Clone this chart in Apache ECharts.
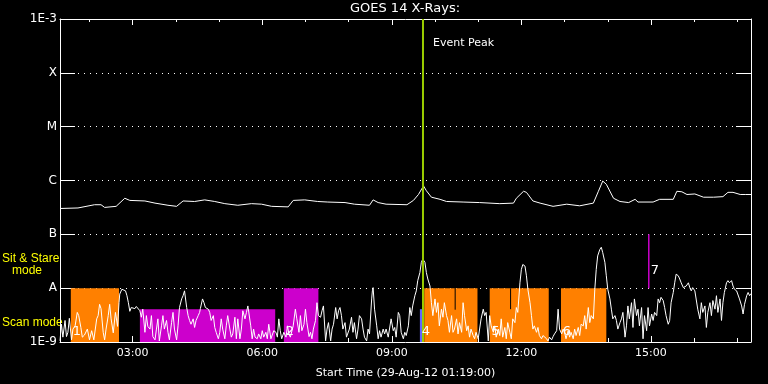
<!DOCTYPE html>
<html><head><meta charset="utf-8">
<script src="https://cdn.jsdelivr.net/npm/echarts@6/dist/echarts.min.js"></script>
<style>html,body{margin:0;padding:0;background:#000;}#c{width:768px;height:384px;}</style>
</head><body><div id="c"></div>
<script>
// ---- text ----
const titleText = 'GOES 14 X-Rays:';
const xAxisName = 'Start Time (29-Aug-12 01:19:00)';
const yTickLabels = ['1E-9', 'A', 'B', 'C', 'M', 'X', '1E-3'];
const sitStareLabel = ['Sit & Stare', 'mode'];
const scanLabel = 'Scan mode';
const eventPeakLabel = 'Event Peak';

// ---- time axis (minutes of day) ----
const timeStart = 79;   // 01:19
const timeEnd = 1039;   // 17:19
const hourTicks = [120,180,240,300,360,420,480,540,600,660,720,780,840,900,960,1020];
const majorTicks = [180,360,540,720,900];

// ---- event peak ----
const eventPeakTime = 583.3;

// ---- observation blocks: [start min, end min, top log10 flux] ----
const orangeBlocks = [[94,161,-8],[585,659,-8],[676,758,-8],[775,838,-8]];
const magentaBlocks = [[190,378,-8.39],[390,438,-8]];
const blueBlocks = [[579,582,-8.39]];
// black separators: [time, top log, bottom log]
const gapLines = [[628,-8,-8.4],[705,-8,-8.39]];
// magenta marker: [time, bottom log, top log]
const markerLines = [[897,-8,-7]];
// block numbers: [label, time]
const blockLabels = [['1',94],['2',390],['4',579],['5',676],['6',775]];
const markerLabels = [['7',897]];

// ---- long channel (upper curve): [time, log10 flux] ----
const upperCurve = [[79,-6.52],[104,-6.51],[127,-6.45],[136,-6.45],[141,-6.50],[157,-6.48],[169,-6.33],[176,-6.37],[197,-6.38],[211,-6.42],[229,-6.46],[241,-6.48],[250,-6.38],[266,-6.39],[280,-6.36],[294,-6.39],[308,-6.43],[326,-6.46],[345,-6.43],[359,-6.44],[373,-6.48],[396,-6.49],[403,-6.37],[419,-6.36],[437,-6.39],[451,-6.40],[475,-6.41],[488,-6.44],[509,-6.46],[514,-6.36],[521,-6.41],[532,-6.44],[561,-6.45],[570,-6.37],[577,-6.26],[584,-6.10],[588,-6.19],[595,-6.31],[607,-6.35],[616,-6.39],[639,-6.40],[662,-6.41],[690,-6.43],[709,-6.42],[713,-6.33],[723,-6.20],[727,-6.22],[736,-6.38],[746,-6.42],[764,-6.48],[783,-6.44],[801,-6.47],[820,-6.42],[827,-6.20],[833,-6.01],[838,-6.07],[848,-6.33],[857,-6.39],[869,-6.41],[878,-6.35],[882,-6.40],[903,-6.40],[912,-6.35],[931,-6.35],[936,-6.20],[943,-6.21],[950,-6.26],[961,-6.25],[973,-6.31],[987,-6.31],[1000,-6.30],[1007,-6.22],[1014,-6.22],[1024,-6.26],[1031,-6.26],[1039,-6.26]];

// ---- short channel (lower curve): [time, log10 flux] ----
const lowerCurve = [[79,-8.98],[81,-8.67],[83,-8.91],[86,-8.60],[88,-8.90],[90,-8.82],[92,-8.56],[95,-8.96],[97,-8.76],[100,-8.70],[103,-8.45],[105,-8.51],[108,-8.73],[110,-8.91],[113,-8.87],[117,-8.76],[120,-8.96],[123,-8.79],[126,-8.96],[130,-8.57],[132,-8.51],[134,-8.30],[136,-8.38],[139,-8.82],[141,-8.96],[143,-8.76],[146,-8.51],[148,-8.30],[150,-8.57],[153,-8.83],[156,-8.45],[159,-8.71],[161,-8.27],[162,-8.11],[165,-8.02],[167,-7.99],[170,-8.05],[172,-8.14],[174,-8.27],[176,-8.43],[178,-8.36],[180,-8.33],[183,-8.38],[185,-8.34],[187,-8.36],[190,-8.42],[192,-8.54],[194,-8.39],[197,-8.82],[199,-8.51],[201,-8.71],[204,-8.76],[206,-8.51],[208,-8.90],[211,-8.96],[213,-8.76],[215,-8.57],[217,-8.98],[220,-8.70],[222,-8.51],[224,-8.76],[227,-8.60],[229,-8.82],[231,-8.96],[234,-8.64],[236,-8.45],[238,-8.76],[241,-8.96],[243,-8.70],[245,-8.36],[248,-8.20],[250,-8.14],[252,-8.05],[255,-8.36],[257,-8.51],[259,-8.60],[261,-8.67],[264,-8.57],[266,-8.73],[268,-8.60],[271,-8.51],[273,-8.45],
[274,-8.38],[277,-8.20],[279,-8.27],[281,-8.36],[283,-8.33],[285,-8.39],[287,-8.45],[289,-8.60],[292,-8.51],[294,-8.73],[296,-8.82],[299,-8.94],[301,-8.82],[303,-8.57],[305,-8.76],[308,-8.94],[310,-8.70],[312,-8.51],[315,-8.76],[317,-8.91],[319,-8.85],[322,-8.54],[324,-8.94],[326,-8.57],[329,-8.94],[331,-8.76],[333,-8.42],[336,-8.57],[338,-8.45],[340,-8.33],[342,-8.30],[344,-8.70],[346,-8.94],[348,-8.76],[350,-8.91],[353,-8.94],[355,-8.85],[358,-8.94],[360,-8.79],[362,-8.91],[365,-8.82],[367,-8.94],[369,-8.67],[372,-8.94],[374,-8.91],[376,-8.79],[379,-8.82],[381,-8.91],[383,-8.57],[385,-8.79],[387,-8.94],[390,-8.82],[393,-8.91],[395,-8.70],[397,-8.85],[399,-8.91],[403,-8.70],[406,-8.39],[408,-8.57],[411,-8.82],[413,-8.51],[415,-8.79],[418,-8.67],[420,-8.39],[422,-8.64],[425,-8.90],[427,-8.82],[429,-8.94],[431,-8.76],[434,-8.60],[436,-8.27],[438,-8.51],[441,-8.54],[443,-8.42],[445,-8.33],[448,-8.98],[450,-8.76],[452,-8.64],[455,-8.98],[457,-8.76],[459,-8.67],[462,-8.36],[464,-8.57],[466,-8.42],
[468,-8.36],[470,-8.51],[472,-8.76],[475,-8.64],[477,-8.91],[479,-8.94],[481,-8.76],[484,-8.54],[486,-8.82],[488,-8.64],[491,-8.94],[493,-8.76],[495,-8.51],[498,-8.57],[500,-8.76],[502,-8.91],[505,-8.98],[507,-8.76],[509,-8.85],[512,-8.20],[513,-8.05],[514,-7.99],[516,-8.39],[519,-8.70],[521,-8.94],[523,-8.79],[525,-8.91],[528,-8.76],[530,-8.85],[532,-8.76],[535,-8.91],[537,-8.94],[539,-8.57],[542,-8.79],[544,-8.73],[546,-8.91],[549,-8.45],[551,-8.51],[553,-8.82],[556,-8.94],[558,-8.82],[560,-8.88],[563,-8.70],[565,-8.36],[567,-8.51],[569,-8.33],[572,-8.14],[574,-8.05],[576,-7.86],[579,-7.71],[581,-7.52],[583,-7.46],[586,-7.52],[588,-7.71],[590,-7.83],[593,-7.96],[595,-8.27],[597,-8.51],[600,-8.20],[602,-8.45],[604,-8.27],[606,-8.70],[609,-8.39],[611,-8.54],[613,-8.27],[616,-8.51],[618,-8.60],[620,-8.82],[623,-8.51],[625,-8.82],[627,-8.76],[630,-8.57],[632,-8.85],[634,-8.64],[637,-8.82],[639,-8.27],[641,-8.51],[644,-8.79],[646,-8.70],[648,-8.91],[650,-8.76],[653,-8.88],[655,-8.94],[657,-8.82],[660,-8.94],
[662,-8.94],[664,-8.57],[667,-8.39],[669,-8.51],[671,-8.45],[674,-8.98],[676,-8.51],[678,-8.70],[681,-8.82],[683,-8.70],[685,-8.91],[688,-8.76],[690,-8.88],[692,-8.57],[694,-8.91],[697,-8.73],[699,-8.94],[701,-8.64],[704,-8.82],[706,-8.94],[708,-8.57],[711,-8.64],[713,-8.36],[715,-8.45],[718,-7.90],[720,-7.65],[722,-7.56],[725,-7.59],[727,-7.77],[729,-8.02],[732,-8.27],[734,-8.51],[736,-8.76],[738,-8.70],[741,-8.82],[743,-8.73],[745,-8.88],[748,-8.94],[750,-8.88],[752,-8.91],[755,-8.94],[757,-8.98],[759,-8.91],[762,-8.96],[764,-8.90],[766,-8.85],[769,-8.79],[771,-8.39],[773,-8.76],[776,-8.85],[778,-8.76],[780,-8.82],[782,-8.94],[785,-8.79],[787,-8.91],[789,-8.82],[792,-8.94],[794,-8.76],[796,-8.88],[799,-8.73],[801,-8.88],[803,-8.67],[806,-8.70],[808,-8.51],[810,-8.76],[813,-8.36],[815,-8.64],[817,-8.51],[820,-8.57],[822,-8.02],[824,-7.65],[826,-7.40],[829,-7.28],[831,-7.24],[833,-7.34],[836,-7.52],[838,-7.77],[840,-8.02],[843,-8.20],[845,-8.39],[847,-8.57],[850,-8.51],[852,-8.60],[854,-8.76],[857,-8.64],
[859,-8.57],[861,-8.45],[864,-8.91],[866,-8.70],[868,-8.33],[870,-8.57],[873,-8.27],[875,-8.73],[877,-8.20],[880,-8.51],[882,-8.39],[884,-8.70],[887,-8.36],[889,-8.94],[891,-8.51],[894,-8.79],[896,-8.36],[898,-8.70],[901,-8.48],[903,-8.60],[905,-8.45],[908,-8.51],[910,-8.20],[912,-8.27],[914,-8.17],[917,-8.23],[919,-8.36],[921,-8.51],[924,-8.67],[926,-8.60],[928,-8.27],[931,-8.08],[933,-7.90],[935,-7.74],[938,-7.77],[940,-7.83],[942,-7.90],[945,-7.99],[947,-8.02],[949,-7.96],[952,-7.90],[954,-7.99],[956,-8.05],[958,-7.99],[961,-8.05],[963,-8.08],[965,-8.39],[968,-8.57],[970,-8.27],[972,-8.45],[975,-8.33],[977,-8.73],[979,-8.45],[982,-8.27],[984,-8.51],[986,-8.23],[989,-8.39],[991,-8.14],[993,-8.45],[996,-8.20],[998,-8.60],[1000,-8.27],[1002,-8.08],[1005,-7.90],[1007,-7.86],[1009,-7.90],[1012,-7.86],[1014,-7.96],[1016,-8.02],[1019,-8.05],[1021,-8.08],[1023,-8.20],[1026,-8.33],[1028,-8.48],[1030,-8.30],[1033,-8.14],[1035,-8.08],[1037,-8.14],[1039,-8.10]];

// ---- styles ----
const FONT = 'DejaVu Sans';
const SIDE_FONT = 'Liberation Sans';
const C = { white:'#ffffff', orange:'#ff8000', magenta:'#cc00cc', blue:'#6464ff', green:'#99cc00', yellow:'#ffff00' };
const P = v => Math.pow(10, v);
const FLOOR = 1e-9, CEIL = 1e-3;

function fmtTime(v) {
  const h = Math.floor(v / 60), m = v % 60;
  return String(h).padStart(2, '0') + ':' + String(m).padStart(2, '0');
}

function blockSeries(blocks, color) {
  return {
    type: 'custom', silent: true, z: 1,
    encode: { x: [0, 1], y: [2, 3] },
    data: blocks.map(b => [b[0], b[1], FLOOR, P(b[2])]),
    renderItem: (params, api) => {
      const p1 = api.coord([api.value(0), api.value(3)]);
      const p2 = api.coord([api.value(1), api.value(2)]);
      return { type: 'rect', shape: { x: p1[0], y: p1[1], width: p2[0] - p1[0], height: p2[1] - p1[1] }, style: { fill: color } };
    }
  };
}
function vlineSeries(lines, color, width, z) {
  return {
    type: 'custom', silent: true, z: z,
    encode: { x: 0, y: [1, 2] },
    data: lines.map(l => [l[0], P(l[1]), P(l[2])]),
    renderItem: (params, api) => {
      const a = api.coord([api.value(0), api.value(1)]);
      const b = api.coord([api.value(0), api.value(2)]);
      return { type: 'line', shape: { x1: a[0], y1: a[1], x2: b[0], y2: b[1] }, style: { stroke: color, lineWidth: width } };
    }
  };
}

const xBase = { type: 'value', min: timeStart, max: timeEnd, splitLine: { show: false } };
const chart = echarts.init(document.getElementById('c'), null, { renderer: 'canvas' });
chart.setOption({
  backgroundColor: '#000',
  animation: false,
  grid: { left: 60, right: 17, top: 19, bottom: 41 },
  xAxis: [
    Object.assign({}, xBase, {
      position: 'bottom',
      axisLine: { show: true, lineStyle: { color: C.white, width: 1 } },
      axisTick: { show: true, inside: true, length: 4, customValues: hourTicks, lineStyle: { color: C.white } },
      axisLabel: { show: true, customValues: majorTicks, formatter: fmtTime, color: C.white, fontSize: 11, fontFamily: FONT, margin: 6 },
      name: xAxisName, nameLocation: 'middle', nameGap: 26,
      nameTextStyle: { color: C.white, fontSize: 11, fontFamily: FONT }
    }),
    Object.assign({}, xBase, {
      position: 'bottom',
      axisLine: { show: false },
      axisTick: { show: true, inside: true, length: 6, customValues: majorTicks, lineStyle: { color: C.white } },
      axisLabel: { show: false }
    }),
    Object.assign({}, xBase, {
      position: 'top',
      axisLine: { show: true, lineStyle: { color: C.white, width: 1 } },
      axisTick: { show: true, inside: true, length: 3, customValues: hourTicks, lineStyle: { color: C.white } },
      axisLabel: { show: false }
    }),
    Object.assign({}, xBase, {
      position: 'top',
      axisLine: { show: false },
      axisTick: { show: true, inside: true, length: 6, customValues: majorTicks, lineStyle: { color: C.white } },
      axisLabel: { show: false }
    })
  ],
  yAxis: [
    {
      type: 'log', logBase: 10, min: FLOOR, max: CEIL, splitNumber: 6, position: 'left',
      axisLine: { show: true, lineStyle: { color: C.white, width: 1 } },
      axisTick: { show: true, inside: true, length: 15, lineStyle: { color: C.white } },
      axisLabel: { color: C.white, fontSize: 12, fontFamily: FONT, margin: 3,
        formatter: v => yTickLabels[Math.round(Math.log10(v)) + 9] },
      splitLine: { show: true, lineStyle: { color: C.white, width: 1, type: [1, 5] } },
      minorTick: { show: false }
    },
    {
      type: 'log', logBase: 10, min: FLOOR, max: CEIL, splitNumber: 6, position: 'right',
      axisLine: { show: true, lineStyle: { color: C.white, width: 1 } },
      axisTick: { show: true, inside: true, length: 15, lineStyle: { color: C.white } },
      axisLabel: { show: false },
      splitLine: { show: false }
    }
  ],
  graphic: [
    { type: 'text', x: 405, y: 9, style: { text: titleText, fill: C.white, font: '13px "' + FONT + '"', align: 'center', verticalAlign: 'middle' } },
    { type: 'text', x: 2, y: 259, style: { text: sitStareLabel[0], fill: C.yellow, font: '12px "' + SIDE_FONT + '"', align: 'left', verticalAlign: 'middle' } },
    { type: 'text', x: 12, y: 271, style: { text: sitStareLabel[1], fill: C.yellow, font: '12px "' + SIDE_FONT + '"', align: 'left', verticalAlign: 'middle' } },
    { type: 'text', x: 2, y: 323, style: { text: scanLabel, fill: C.yellow, font: '12px "' + SIDE_FONT + '"', align: 'left', verticalAlign: 'middle' } }
  ],
  series: [
    blockSeries(orangeBlocks, C.orange),
    blockSeries(magentaBlocks, C.magenta),
    blockSeries(blueBlocks, C.blue),
    vlineSeries(gapLines, '#000', 1, 2),
    {
      type: 'line', name: 'upper', z: 3, silent: true, showSymbol: false,
      data: upperCurve.map(d => [d[0], P(d[1])]),
      lineStyle: { color: C.white, width: 1 }
    },
    {
      type: 'line', name: 'lower', z: 3, silent: true, showSymbol: false,
      data: lowerCurve.map(d => [d[0], P(d[1])]),
      lineStyle: { color: C.white, width: 1 }
    },
    vlineSeries(markerLines, C.magenta, 1.5, 4),
    vlineSeries([[eventPeakTime, -9, -3]], C.green, 2, 5),
    {
      type: 'custom', silent: true, z: 6,
      encode: { x: 0, y: 1 },
      data: [[eventPeakTime, CEIL]],
      renderItem: (params, api) => {
        const p = api.coord([api.value(0), api.value(1)]);
        return { type: 'text', x: p[0] + 10, y: p[1] + 24, style: { text: eventPeakLabel, fill: C.white, font: '11px "' + FONT + '"', align: 'left', verticalAlign: 'middle' } };
      }
    },
    {
      type: 'custom', silent: true, z: 6,
      encode: { x: 1, y: 2 },
      data: blockLabels.map(l => [l[0], l[1], FLOOR]),
      renderItem: (params, api) => {
        const p = api.coord([api.value(1), api.value(2)]);
        return { type: 'text', x: p[0] + 6, y: p[1] - 10, style: { text: String(blockLabels[params.dataIndex][0]), fill: C.white, font: '13px "' + FONT + '"', align: 'center', verticalAlign: 'middle' } };
      }
    },
    {
      type: 'custom', silent: true, z: 6,
      encode: { x: 1, y: 2 },
      data: markerLabels.map(l => [l[0], l[1], 1e-8]),
      renderItem: (params, api) => {
        const p = api.coord([api.value(1), api.value(2)]);
        return { type: 'text', x: p[0] + 6, y: p[1] - 18, style: { text: String(markerLabels[params.dataIndex][0]), fill: C.white, font: '13px "' + FONT + '"', align: 'center', verticalAlign: 'middle' } };
      }
    }
  ]
});
</script>
</body></html>
